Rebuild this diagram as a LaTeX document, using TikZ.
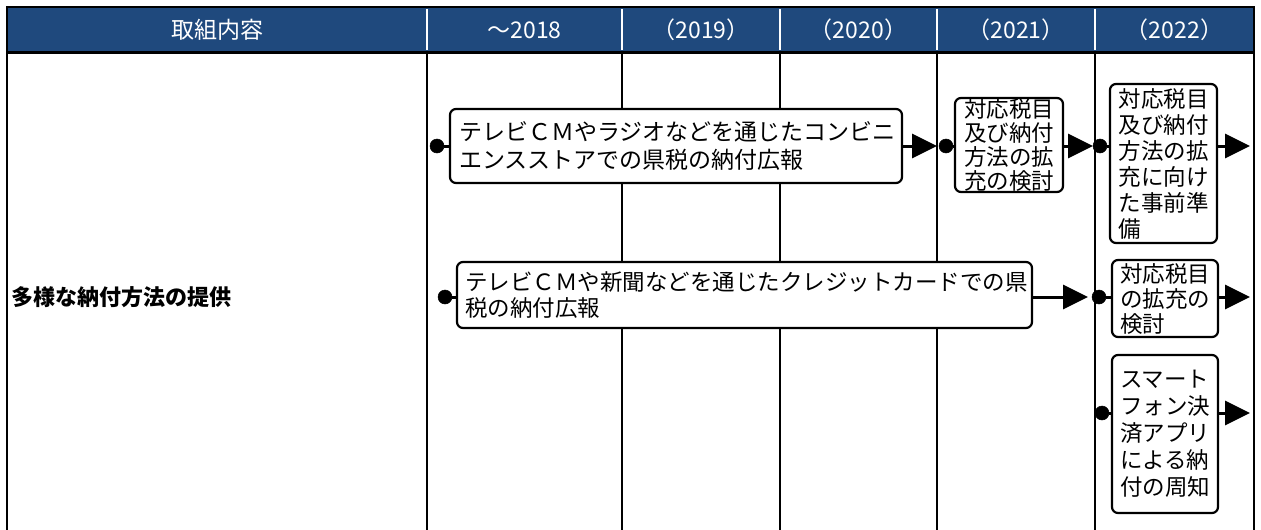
\documentclass[tikz,border=0pt]{standalone}
\usepackage{fontspec}
\setmainfont{Noto Sans CJK JP}
\usetikzlibrary{arrows.meta}
\definecolor{hdrblue}{RGB}{31,73,125}
\tikzset{
  gridline/.style={line width=2pt,draw=black},
  hdrsep/.style={line width=1.6pt,draw=white},
  hdr/.style={text=white,font=\fontsize{23}{26}\selectfont,inner sep=0pt},
  box/.style={draw=black,line width=2.2pt,rounded corners=6pt,fill=white,inner ysep=0pt,align=left,anchor=center},
  blob/.style={shape=circle,fill=black,draw=black,line width=0.5pt,inner sep=0pt,minimum width=14pt,minimum height=14pt},
  link/.style={line width=3pt},
  arrowlink/.style={line width=3pt,-{Triangle[length=25pt,width=24pt]}},
}
\begin{document}
\begin{tikzpicture}[x=1pt,y=-1pt]
\useasboundingbox (0,0) rectangle (1261,530);
% header
\fill[hdrblue] (7,7) rectangle (1254,52);
\draw[line width=2pt] (7,7) rectangle (1254,52);
\foreach \c in {427,622,780,937,1095} \draw[hdrsep] (\c,9) -- (\c,50);
% body grid
\foreach \c in {7,427,622,780,937,1095,1254} \draw[gridline] (\c,52) -- (\c,530);
\draw[line width=3pt] (6,52) -- (1255,52);
% header texts
\node[hdr] (h0) at (217,30) {取組内容};
\node[hdr] (h1) at (524.5,30) {～2018};
\node[hdr] (h2) at (701,30) {（2019）};
\node[hdr] (h3) at (858.5,30) {（2020）};
\node[hdr] (h4) at (1016,30) {（2021）};
\node[hdr] (h5) at (1174.5,30) {（2022）};
% left label
\node[anchor=west,inner sep=0pt,font=\fontsize{22}{24}\selectfont\bfseries] (lab) at (11,297) {多様な納付方法の提供};
% boxes
\node[box,font=\fontsize{23}{28}\selectfont,text width=434pt,inner xsep=9pt,minimum height=74pt] (b1) at (676,146)
  {テレビＣＭやラジオなどを通じたコンビニ\\エンスストアでの県税の納付広報};
\node[box,font=\fontsize{22.5}{24}\selectfont,text width=90pt,inner xsep=9pt,minimum height=94pt] (b2) at (1009,145)
  {対応税目\\及び納付\\方法の拡\\充の検討};
\node[box,font=\fontsize{22.5}{26}\selectfont,text width=90pt,inner xsep=8.5pt,minimum height=159pt] (b3) at (1163.5,163.5)
  {対応税目\\及び納付\\方法の拡\\充に向け\\た事前準\\備};
\node[box,font=\fontsize{22.5}{26}\selectfont,text width=559pt,inner xsep=8pt,minimum height=66pt] (b4) at (744.5,295)
  {テレビＣＭや新聞などを通じたクレジットカードでの県\\税の納付広報};
\node[box,font=\fontsize{22.5}{25}\selectfont,text width=90pt,inner xsep=8pt,minimum height=77pt] (b5) at (1165,298.5)
  {対応税目\\の拡充の\\検討};
\node[box,font=\fontsize{22.5}{27}\selectfont,text width=90pt,inner xsep=8pt,minimum height=158pt] (b6) at (1165,434)
  {スマート\\フォン決\\済アプリ\\による納\\付の周知};
% dots and arrow tips
\node[blob] (d1) at (437,146) {};
\node[blob] (d2) at (946,146) {};
\node[blob] (d3) at (1100,146) {};
\node[blob] (d4) at (445,297) {};
\node[blob] (d5) at (1099,297) {};
\node[blob] (d6) at (1102,413) {};
\coordinate (t1) at (937,146);
\coordinate (t2) at (1093,146);
\coordinate (t3) at (1250,146);
\coordinate (t4) at (1088,297);
\coordinate (t5) at (1250,297);
\coordinate (t6) at (1250,413);
% connectors
\draw[link] (d1) -- (d1 -| b1.west);
\draw[arrowlink] (b1.east |- t1) -- (t1);
\draw[link] (d2) -- (d2 -| b2.west);
\draw[arrowlink] (b2.east |- t2) -- (t2);
\draw[link] (d3) -- (d3 -| b3.west);
\draw[arrowlink] (b3.east |- t3) -- (t3);
\draw[link] (d4) -- (d4 -| b4.west);
\draw[arrowlink] (b4.east |- t4) -- (t4);
\draw[link] (d5) -- (d5 -| b5.west);
\draw[arrowlink] (b5.east |- t5) -- (t5);
\draw[link] (d6) -- (d6 -| b6.west);
\draw[arrowlink] (b6.east |- t6) -- (t6);
\end{tikzpicture}
\end{document}
